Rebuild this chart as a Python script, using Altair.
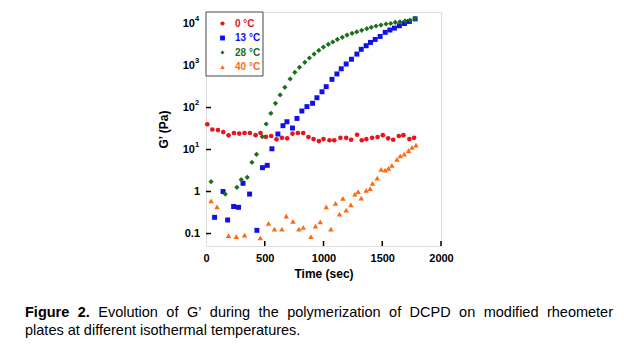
import altair as alt
import pandas as pd

# ---------------- data ----------------
series_names = ["0 °C", "13 °C", "28 °C", "40 °C"]
series_colors = ["#e8141c", "#1010e8", "#1b6e1b", "#ff6a10"]
series_shapes = ["circle", "square", "diamond", "triangle-up"]
series_sizes = [22, 30, 20, 26]

red_t = [11, 54, 102, 147, 192, 238, 283, 328, 374, 422, 464, 510, 555, 600, 646, 691, 736, 782, 827, 872,
         915, 961, 1000, 1051, 1091, 1144, 1193, 1235, 1286, 1326, 1365, 1414, 1460, 1505, 1550, 1593, 1641, 1680, 1731, 1771]
red_g = [40, 30, 29, 26, 21.8, 24.7, 24, 24.7, 24.7, 22, 24.7, 20, 21, 17.5, 19, 18.5, 23.8, 24.7, 24.7, 19.8,
         17.7, 15.9, 17.7, 16.6, 16.6, 19, 19, 17.1, 22.5, 16.6, 17.7, 19, 19.8, 22, 18.5, 17.1, 21, 22, 17.7, 19]

blue_t = [73, 145, 184, 235, 277, 315, 371, 433, 481, 521, 561, 612, 655, 689, 736, 774, 816, 859, 907, 944,
          987, 1023, 1072, 1114, 1151, 1193, 1238, 1284, 1321, 1363, 1400, 1440, 1482, 1525, 1565, 1604, 1646, 1689, 1731, 1780]
blue_g = [0.243, 1.0, 0.21, 0.44, 0.42, 1.57, 0.87, 0.119, 3.7, 4.2, 10.4, 23.4, 36.9, 45.9, 32.5, 55, 82.6, 105, 126, 171,
          237, 313, 468, 630, 836, 1086, 1410, 1870, 2430, 2960, 3550, 4180, 4920, 6160, 7000, 7770, 8850, 10000, 11200, 12900]

green_t = [43, 164, 263, 300, 351, 391, 430, 479, 512, 552, 591, 631, 671, 716, 756, 795, 841, 880, 920, 960,
           999, 1041, 1079, 1118, 1160, 1200, 1243, 1283, 1325, 1368, 1407, 1447, 1489, 1532, 1572, 1611, 1651, 1694, 1736, 1779]
green_g = [1.71, 0.87, 1.26, 1.91, 2.18, 4.96, 7.7, 20.2, 40.5, 72.7, 126, 199, 302, 478, 689, 906, 1190, 1510, 1870, 2290,
           2750, 3200, 3630, 4180, 4680, 5320, 5840, 6300, 6890, 7520, 8120, 8720, 9200, 9730, 10000, 10700, 11000, 11500, 12000, 13200]

orange_t = [43, 94, 192, 258, 328, 462, 532, 583, 646, 683, 740, 791, 828, 893, 932, 972, 1023, 1063, 1102, 1136,
            1165, 1193, 1233, 1267, 1295, 1321, 1363, 1397, 1417, 1457, 1491, 1525, 1553, 1582, 1625, 1653, 1687, 1724, 1753, 1787]
orange_g = [0.60, 0.43, 0.089, 0.084, 0.092, 0.079, 0.175, 0.128, 0.128, 0.26, 0.195, 0.128, 0.14, 0.084, 0.15, 0.19, 0.43, 0.128, 0.52, 0.29,
            0.69, 0.36, 0.48, 0.87, 1.0, 0.70, 1.07, 1.17, 1.57, 2.09, 3.37, 3.25, 3.57, 4.2, 5.83, 7.1, 7.8, 9.35, 11.3, 12.8]

x_ticks = [0, 500, 1000, 1500, 2000]
y_ticks = [0.1, 1, 10, 100, 1000, 10000]
y_tick_base = ["0.1", "1", "10", "10", "10", "10"]
y_tick_exp = ["", "", "1", "2", "3", "4"]

caption_line1 = "Figure 2. Evolution of G’ during the polymerization of DCPD on modified rheometer"
caption_line2 = "plates at different isothermal temperatures."

# ---------------- layout ----------------
W, H = 235, 234
FONT = "Liberation Sans"

rows = []
for name, ts, gs in zip(series_names, [red_t, blue_t, green_t, orange_t], [red_g, blue_g, green_g, orange_g]):
    for t, g in zip(ts, gs):
        rows.append({"series": name, "t": t, "g": g})
df = pd.DataFrame(rows)

xscale = alt.Scale(domain=[0, 2000], nice=False, zero=False)
yscale = alt.Scale(type="log", domain=[10 ** -1.297, 10 ** 4.274], nice=False)

xaxis = alt.Axis(values=x_ticks, ticks=False, domain=False, grid=False, labelFont=FONT, labelFontWeight="bold",
                 labelFontSize=11, labelColor="black", labelPadding=6, labelFlush=False, labelOverlap=False,
                 format="d", title="Time (sec)", titleFont=FONT, titleFontSize=12, titleFontWeight="bold",
                 titleColor="black", titlePadding=5)
yaxis = alt.Axis(labels=False, ticks=False, domain=False, grid=False, title="G’ (Pa)", titleFont=FONT,
                 titleFontSize=12, titleFontWeight="bold", titleColor="black", titlePadding=36)

xenc = alt.X("t:Q", scale=xscale, axis=xaxis)
yenc = alt.Y("g:Q", scale=yscale, axis=yaxis)

points = alt.Chart(df).mark_point(filled=True, opacity=1).encode(
    x=xenc, y=yenc,
    color=alt.Color("series:N", scale=alt.Scale(domain=series_names, range=series_colors), legend=None),
    shape=alt.Shape("series:N", scale=alt.Scale(domain=series_names, range=series_shapes), legend=None),
    size=alt.Size("series:N", scale=alt.Scale(domain=series_names, range=series_sizes), legend=None),
)

ytick_df = pd.DataFrame({"g": y_ticks, "base": y_tick_base, "exp": y_tick_exp})
xtick_df = pd.DataFrame({"t": x_ticks[1:]})

ytick_rules = alt.Chart(ytick_df).mark_rule(color="black", strokeWidth=1.5).encode(
    y=yenc, x=alt.value(0), x2=alt.value(5))
xtick_rules = alt.Chart(xtick_df).mark_rule(color="black", strokeWidth=1.5).encode(
    x=xenc, y=alt.value(H), y2=alt.value(H - 5))

ylab_plain = alt.Chart(ytick_df).transform_filter("datum.exp == ''").mark_text(
    align="right", baseline="middle", font=FONT, fontWeight="bold", fontSize=11, color="black").encode(
    y=yenc, x=alt.value(-6), text="base:N")
ylab_base = alt.Chart(ytick_df).transform_filter("datum.exp != ''").mark_text(
    align="right", baseline="middle", font=FONT, fontWeight="bold", fontSize=11, color="black").encode(
    y=yenc, x=alt.value(-11), text="base:N")
ylab_exp = alt.Chart(ytick_df).transform_filter("datum.exp != ''").mark_text(
    align="left", baseline="middle", font=FONT, fontWeight="bold", fontSize=7.5, color="black", dy=-5).encode(
    y=yenc, x=alt.value(-11), text="exp:N")

dummy = pd.DataFrame({"a": [0]})
layers = [points, ytick_rules, xtick_rules, ylab_plain, ylab_base, ylab_exp]

# legend box
layers.append(alt.Chart(dummy).mark_rect(fill="white", stroke="#444", strokeWidth=1).encode(
    x=alt.value(0), x2=alt.value(57), y=alt.value(0), y2=alt.value(64)))
for i, (name, col, shp, sz) in enumerate(zip(series_names, series_colors, series_shapes, series_sizes)):
    ly = 11.5 + 14.5 * i
    layers.append(alt.Chart(dummy).mark_point(filled=True, opacity=1, shape=shp, size=sz * 0.8, color=col).encode(
        x=alt.value(16.5), y=alt.value(ly)))
    layers.append(alt.Chart(dummy).mark_text(align="left", baseline="middle", font=FONT, fontWeight="bold",
                                             fontSize=10, color=col).encode(
        x=alt.value(29), y=alt.value(ly), text=alt.value(name)))

# caption (justified first line)
REG = {"E": 667, "v": 500, "o": 556, "l": 222, "u": 556, "t": 278, "i": 222, "n": 556, "f": 278, "G": 778,
       "’": 222, "d": 556, "r": 333, "g": 556, "h": 556, "e": 556, "p": 556, "y": 500, "m": 833, "z": 500,
       "a": 556, "D": 722, "C": 722, "P": 667, "s": 500, "c": 500, ".": 278, " ": 278}
BOLD = {"F": 611, "i": 278, "g": 611, "u": 611, "r": 389, "e": 556, "2": 556, ".": 278, " ": 278}
CFS = 14.5
LEFT = 25 - 206
RIGHT = 613 - 206
words = caption_line1.split(" ")
bold_words = {0, 1}
widths = [sum((BOLD if k in bold_words else REG).get(ch, 556) for ch in w) * CFS / 1000 for k, w in enumerate(words)]
gap = (RIGHT - LEFT - sum(widths)) / (len(words) - 1)
xpos = LEFT
for k, w in enumerate(words):
    layers.append(alt.Chart(dummy).mark_text(align="left", baseline="middle", font=FONT,
                                             fontWeight="bold" if k in bold_words else "normal",
                                             fontSize=CFS, color="black").encode(
        x=alt.value(xpos), y=alt.value(313 - 12), text=alt.value(w)))
    xpos += widths[k] + gap
layers.append(alt.Chart(dummy).mark_text(align="left", baseline="middle", font=FONT, fontSize=CFS,
                                         color="black").encode(
    x=alt.value(LEFT), y=alt.value(331 - 12), text=alt.value(caption_line2)))

chart = alt.layer(*layers).properties(
    width=W, height=H,
    autosize=alt.AutoSizeParams(type="none"),
    padding={"left": 198, "top": 4, "right": 608 - 198 - W, "bottom": 345 - 4 - H},
).configure_view(stroke="black", strokeWidth=2.5).configure(background="white")

chart.save("out.html", embed_options={"renderer": "svg", "actions": False})
